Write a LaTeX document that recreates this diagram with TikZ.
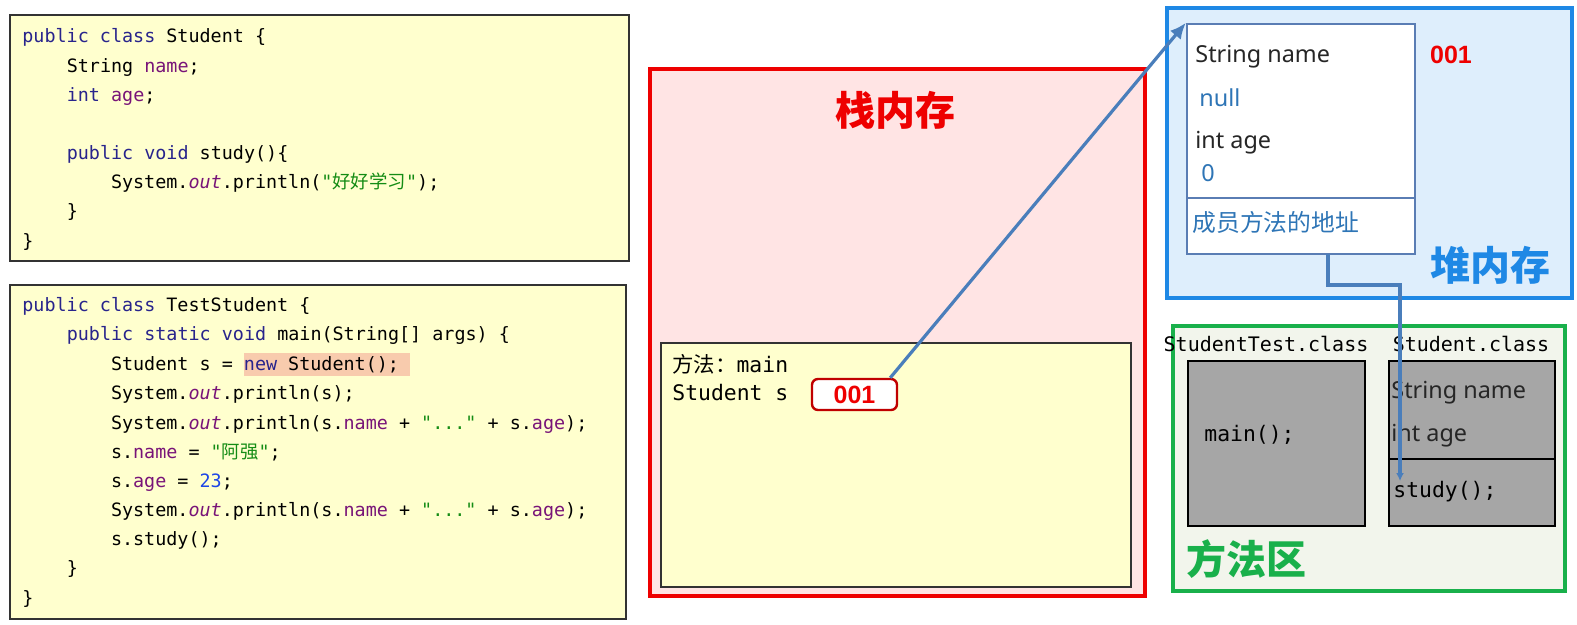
\documentclass[tikz,border=0pt]{standalone}
\usepackage{fontspec}
\setmainfont{Noto Sans}
\setmonofont{DejaVu Sans Mono}
\newfontfamily\cjk{Noto Sans CJK SC}
\newfontfamily\addrfont{Liberation Sans}
\usetikzlibrary{arrows.meta,positioning,fit}

\definecolor{codebg}{RGB}{255,255,206}
\definecolor{kwcol}{RGB}{40,36,140}
\definecolor{fdcol}{RGB}{120,20,120}
\definecolor{strcol}{RGB}{20,140,20}
\definecolor{numcol}{RGB}{30,70,230}
\definecolor{hlbg}{RGB}{248,203,173}
\definecolor{stackred}{RGB}{238,0,0}
\definecolor{stackbg}{RGB}{255,228,228}
\definecolor{refred}{RGB}{192,0,0}
\definecolor{heapblue}{RGB}{30,136,229}
\definecolor{heapbg}{RGB}{222,238,252}
\definecolor{objline}{RGB}{90,125,180}
\definecolor{valblue}{RGB}{46,117,182}
\definecolor{ptrblue}{RGB}{74,126,187}
\definecolor{areagreen}{RGB}{25,176,75}
\definecolor{areabg}{RGB}{242,245,236}
\definecolor{classgray}{RGB}{166,166,166}

\newcommand\kw[1]{\textcolor{kwcol}{#1}}
\newcommand\fd[1]{\textcolor{fdcol}{#1}}
\newcommand\fo[1]{\textcolor{fdcol}{\itshape #1}}
\newcommand\str[1]{\textcolor{strcol}{#1}}
\newcommand\hl[1]{{\fboxsep=0pt\colorbox{hlbg}{\rule[-3pt]{0pt}{11.5pt}#1}}}

\begin{document}
\begin{tikzpicture}[
    x=0.5pt, y=-0.5pt,
    codebox/.style={draw=black!80, fill=codebg, line width=0.6pt, inner sep=0pt},
    code/.style={font=\ttfamily\fontsize{9.2}{11}\selectfont, anchor=base west, inner sep=0pt},
    code2/.style={font=\ttfamily\fontsize{10.7}{12}\selectfont, anchor=base west, inner sep=0pt},
    sans/.style={font=\fontsize{11.7}{13}\selectfont, text=black!85, anchor=base west, inner sep=0pt},
    title/.style={font=\cjk\bfseries\fontsize{20}{24}\selectfont, inner sep=0pt},
    addr/.style={font=\addrfont\bfseries\fontsize{12.5}{14}\selectfont, text=stackred, inner sep=0pt},
    ptr/.style={draw=ptrblue, line width=1.6pt, -{Latex[length=8pt,width=7pt]}}
]
\useasboundingbox (0,0) rectangle (1577,625);

% source code
\node[codebox, fit={(10,15) (629,261)}] (cls) {};
\node[code] (c1) at (22,43) {\kw{public} \kw{class} Student \{};
\node[code] (c2) at (66.4,72.5) {String \fd{name};};
\node[code] (c3) at (66.4,101.5) {\kw{int} \fd{age};};
\node[code] (c4) at (66.4,160) {\kw{public} \kw{void} study()\{};
\node[code] (c5) at (110.6,189) {System.\fo{out}.println(\str{"{\cjk 好好学习}"});};
\node[code] (c6) at (66.4,218) {\}};
\node[code] (c7) at (22,247.5) {\}};

\node[codebox, fit={(10,285) (626,619)}] (test) {};
\node[code] (t1) at (22,312) {\kw{public} \kw{class} TestStudent \{};
\node[code] (t2) at (66.4,341) {\kw{public} \kw{static} \kw{void} main(String[] args) \{};
\node[code] (t3) at (110.6,370) {Student s = \hl{\kw{new} Student();\ }};
\node[code] (t4) at (110.6,399) {System.\fo{out}.println(s);};
\node[code] (t5) at (110.6,429) {System.\fo{out}.println(s.\fd{name} + \str{"..."} + s.\fd{age});};
\node[code] (t6) at (110.6,458) {s.\fd{name} = \str{"{\cjk 阿强}"};};
\node[code] (t7) at (110.6,487) {s.\fd{age} = \textcolor{numcol}{23};};
\node[code] (t8) at (110.6,516) {System.\fo{out}.println(s.\fd{name} + \str{"..."} + s.\fd{age});};
\node[code] (t9) at (110.6,545) {s.study();};
\node[code] (t10) at (66.4,574) {\}};
\node[code] (t11) at (22,604) {\}};

% stack
\node[draw=stackred, fill=stackbg, line width=2.2pt, inner sep=0pt, fit={(650,69) (1145,596)}] (stack) {};
\node[title, text=stackred] (stacktitle) at (895,110) {栈内存};
\node[draw=black!80, fill=codebg, line width=0.6pt, inner sep=0pt, fit={(661,343) (1131,587)}] (frame) {};
\node[code2] (mname) at (672,372) {{\cjk 方法：}main};
\node[code2] (svar) at (672,400) {Student s};
\node[addr, draw=refred, fill=white, line width=1.2pt, rounded corners=3pt,
      minimum width=42.5pt, minimum height=15.5pt] (ref) at (854.5,394.5) {001};

% heap
\node[draw=heapblue, fill=heapbg, line width=2.2pt, inner sep=0pt, fit={(1167,8) (1572,298)}] (heap) {};
\node[draw=objline, fill=white, line width=1.2pt, inner sep=0pt, fit={(1187,24) (1415,198)}] (obj) {};
\node[draw=objline, fill=white, line width=1.2pt, inner sep=0pt, fit={(1187,198) (1415,254)}] (objm) {};
\node[sans] (fname) at (1195,63) {String name};
\node[sans, text=valblue] (vname) at (1199,107) {null};
\node[sans] (fage) at (1195,149) {int age};
\node[sans, text=valblue] (vage) at (1201,182) {0};
\node[sans, font=\cjk\fontsize{11.9}{13}\selectfont, text=valblue] (maddr) at (1192,232) {成员方法的地址};
\node[addr] (oaddr) at (1451,55) {001};
\node[title, text=heapblue] (heaptitle) at (1490,265) {堆内存};

% method area
\node[draw=areagreen, fill=areabg, line width=2.2pt, inner sep=0pt, fit={(1173,326) (1565,591)}] (area) {};
\node[code2, font=\ttfamily\fontsize{10}{12}\selectfont, anchor=center] (tname) at (1266,344) {StudentTest.class};
\node[code2, font=\ttfamily\fontsize{10}{12}\selectfont, anchor=center] (sname) at (1471,344) {Student.class};
\node[draw=black, fill=classgray, line width=0.6pt, inner sep=0pt, fit={(1188,361) (1365,526)}] (tcls) {};
\node[draw=black, fill=classgray, line width=0.6pt, inner sep=0pt, fit={(1389,361) (1555,526)}] (scls) {};
\draw[line width=1.4pt] (1389,459) -- (1555,459);
\node[code2] (tmain) at (1204,441) {main();};
\node[sans] (sfname) at (1391,398) {String name};
\node[sans] (sfage) at (1391,441) {int age};
\node[code2] (sstudy) at (1393,497) {study();};
\node[title, text=areagreen] (areatitle) at (1246,559) {方法区};

% pointers
\draw[ptr] ([xshift=-4pt]ref.north east) -- (obj.north west);
\coordinate (mref) at (1328,254);
\coordinate (mtgt) at (1400,481);
\draw[ptr, -{Latex[length=4pt,width=4pt]}] (mref) -- ++(0,31) -| (mtgt);
\end{tikzpicture}
\end{document}
